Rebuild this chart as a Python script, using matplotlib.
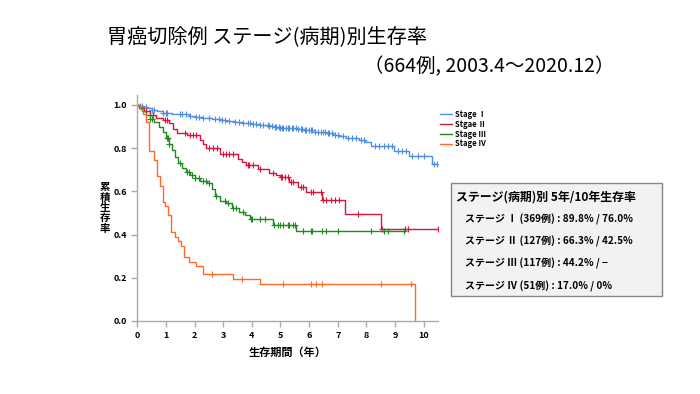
import matplotlib
matplotlib.use('Agg')
import matplotlib.pyplot as plt
from matplotlib.patches import Rectangle
import numpy as np

plt.rcParams['font.family'] = ['Noto Sans CJK JP', 'DejaVu Sans']

# step curves (time in years, survival after step)
s1_t = [0, 0.1, 0.2, 0.35, 0.5, 0.7, 0.9, 1.2, 1.5, 1.8, 2.0, 2.3, 2.6, 2.9, 3.1, 3.4, 3.7, 4.0, 4.3, 4.6,
        4.8, 5.0, 5.3, 5.6, 5.8, 6.0, 6.2, 6.4, 6.6, 6.85, 7.05, 7.3, 7.75, 7.95, 8.15, 8.95, 9.5, 10.3]
s1_s = [1.0, 0.995, 0.99, 0.985, 0.978, 0.972, 0.964, 0.96, 0.956, 0.95, 0.944, 0.94, 0.935, 0.928, 0.924,
        0.92, 0.915, 0.912, 0.906, 0.902, 0.898, 0.895, 0.892, 0.889, 0.886, 0.882, 0.877, 0.873, 0.868,
        0.862, 0.856, 0.845, 0.84, 0.828, 0.808, 0.785, 0.762, 0.728]
s1_end = 10.5
s1_cens = [0.1, 0.15, 0.3, 0.5, 0.6, 0.9, 1.0, 1.05, 1.5, 1.55, 1.7, 1.85, 2.05, 2.15, 2.3, 2.5, 2.7, 2.85,
           2.95, 3.05, 3.2, 3.4, 3.55, 3.7, 3.85, 3.95, 4.05, 4.15, 4.3, 4.4, 4.55, 4.6, 4.7, 4.8, 4.85,
           4.95, 5.0, 5.05, 5.1, 5.2, 5.25, 5.3, 5.4, 5.45, 5.55, 5.6, 5.7, 5.75, 5.85, 5.9, 6.0, 6.05, 6.1,
           6.2, 6.3, 6.4, 6.5, 6.55, 6.65, 6.7, 6.8, 6.9, 7.0, 7.2, 7.35, 7.5, 7.65, 7.8, 7.9, 8.3, 8.45,
           8.6, 8.75, 8.9, 9.1, 9.25, 9.4, 9.6, 9.8, 10.0, 10.35, 10.45]

s2_t = [0, 0.1, 0.25, 0.45, 0.65, 0.9, 1.1, 1.25, 1.4, 1.75, 2.2, 2.3, 2.4, 2.9, 3.5, 3.65, 3.8, 4.2, 4.6,
        4.85, 5.0, 5.3, 5.6, 5.9, 6.45, 7.25, 8.5]
s2_s = [1.0, 0.985, 0.97, 0.955, 0.94, 0.93, 0.915, 0.89, 0.87, 0.862, 0.84, 0.82, 0.802, 0.775, 0.75,
        0.735, 0.72, 0.705, 0.685, 0.675, 0.665, 0.645, 0.62, 0.597, 0.56, 0.497, 0.425]
s2_end = 10.52
s2_cens = [0.3, 0.55, 0.95, 1.05, 1.65, 1.85, 1.95, 2.05, 2.5, 2.65, 2.8, 3.0, 3.1, 3.2, 3.35, 3.85, 3.9,
           4.05, 4.3, 4.75, 5.02, 5.07, 5.15, 5.25, 5.35, 5.45, 5.7, 5.8, 6.05, 6.15, 6.4, 6.5, 6.6, 6.75,
           6.9, 7.05, 7.7, 8.55, 9.35, 9.45, 10.5]

s3_t = [0, 0.05, 0.15, 0.3, 0.45, 0.6, 0.75, 0.9, 1.0, 1.1, 1.2, 1.3, 1.42, 1.55, 1.7, 1.85, 2.0, 2.2,
        2.45, 2.6, 2.72, 2.9, 3.1, 3.3, 3.55, 3.75, 3.95, 4.75, 5.55]
s3_s = [1.0, 0.985, 0.97, 0.955, 0.935, 0.92, 0.9, 0.875, 0.848, 0.82, 0.79, 0.76, 0.73, 0.707, 0.69,
        0.675, 0.66, 0.65, 0.64, 0.61, 0.577, 0.555, 0.545, 0.523, 0.505, 0.49, 0.473, 0.443, 0.415]
s3_end = 9.33
s3_cens = [0.45, 0.5, 1.02, 1.07, 1.12, 1.5, 1.75, 1.8, 1.9, 2.0, 2.15, 2.3, 2.4, 2.5, 2.75, 3.05, 3.15,
           3.35, 3.45, 3.7, 3.97, 4.02, 4.3, 4.45, 4.78, 4.9, 5.0, 5.1, 5.25, 5.3, 5.45, 5.5, 5.8, 6.05,
           6.1, 6.45, 6.6, 7.0, 8.15, 8.6, 8.75, 9.3]

s4_t = [0, 0.08, 0.2, 0.3, 0.42, 0.58, 0.68, 0.78, 0.88, 0.98, 1.08, 1.18, 1.3, 1.42, 1.52, 1.62, 1.82,
        2.05, 2.3, 3.35, 4.3, 9.7]
s4_s = [1.0, 0.98, 0.96, 0.92, 0.785, 0.745, 0.67, 0.625, 0.55, 0.53, 0.49, 0.41, 0.39, 0.37, 0.345,
        0.295, 0.275, 0.255, 0.217, 0.193, 0.171, 0.0]
s4_end = 9.7
s4_cens = [2.6, 3.65, 5.08, 6.05, 6.25, 6.45, 8.52, 9.57]

labels = ['Stage Ⅰ', 'Stgae Ⅱ', 'Stage Ⅲ', 'Stage Ⅳ']
colors = ['#4f8fe3', '#dc143c', '#1f8a1f', '#ff6a2a']

box_title = 'ステージ(病期)別 5年/10年生存率'
box_rows = ['ステージ Ⅰ (369例) : 89.8% / 76.0%',
            'ステージ Ⅱ (127例) : 66.3% / 42.5%',
            'ステージ Ⅲ (117例) : 44.2% / \u2212',
            'ステージ Ⅳ (51例) : 17.0% / 0%']

fig = plt.figure(figsize=(7, 3.94), dpi=100)
ax = fig.add_axes([137.3/700, 1-321/394, (438-137.3)/700, (321-95)/394])

curves = [(s1_t, s1_s, s1_end, s1_cens), (s2_t, s2_s, s2_end, s2_cens),
          (s3_t, s3_s, s3_end, s3_cens), (s4_t, s4_s, s4_end, s4_cens)]
for (t, s, end, cens), c, lab in zip(curves, colors, labels):
    tt = list(t) + [end]
    ss = list(s) + [s[-1]]
    ax.step(tt, ss, where='post', color=c, linewidth=1.0, label=lab)
    idx = np.searchsorted(t, cens, side='right') - 1
    ax.plot(cens, np.array(s)[idx], linestyle='none', marker='+', color=c, markersize=4, markeredgewidth=0.8)

ax.set_xlim(0, 10.5)
ax.set_ylim(0, 1.046)
ax.set_xticks(range(0, 11))
ax.set_yticks([0, 0.2, 0.4, 0.6, 0.8, 1.0])
ax.set_yticklabels(['0.0', '0.2', '0.4', '0.6', '0.8', '1.0'])
for sp in ['top', 'right']:
    ax.spines[sp].set_visible(False)
for sp in ['left', 'bottom']:
    ax.spines[sp].set_color('#aaaaaa')
    ax.spines[sp].set_linewidth(1.0)
ax.tick_params(colors='#aaaaaa', length=4, width=1.0, labelcolor='black', labelsize=6.5)
for lb in ax.get_xticklabels() + ax.get_yticklabels():
    lb.set_fontweight('bold')
ax.set_xlabel('生存期間（年）', fontsize=8, fontweight='bold', labelpad=4)

fig.text(105/700, 1-208/394, '\n'.join('累積生存率'), fontsize=7.5, fontweight='bold',
         ha='center', va='center', linespacing=1.05)

leg = ax.legend(loc='upper left', bbox_to_anchor=(437/700, 1-107/394), bbox_transform=fig.transFigure,
                frameon=False, fontsize=5.5, handlelength=1.6, handletextpad=0.3, labelspacing=0.1,
                borderaxespad=0)
for txt in leg.get_texts():
    txt.set_fontweight('bold')

fig.text(107/700, 1-38/394, '胃癌切除例 ステージ(病期)別生存率', fontsize=14.5, ha='left', va='center')
fig.text(364/700, 1-67/394, '（664例, 2003.4～2020.12）', fontsize=14, ha='left', va='center')

fig.patches.append(Rectangle((451/700, 1-296/394), 211/700, 113/394, transform=fig.transFigure,
                             facecolor='#f2f2f2', edgecolor='#888888', linewidth=1.0))
fig.text(456/700, 1-197/394, box_title, fontsize=8.6, fontweight='bold', ha='left', va='center')
for i, row in enumerate(box_rows):
    fig.text(465/700, 1-(219 + 22.3*i)/394, row, fontsize=7.2, fontweight='bold', ha='left', va='center')

fig.savefig('out.png', dpi=100)
